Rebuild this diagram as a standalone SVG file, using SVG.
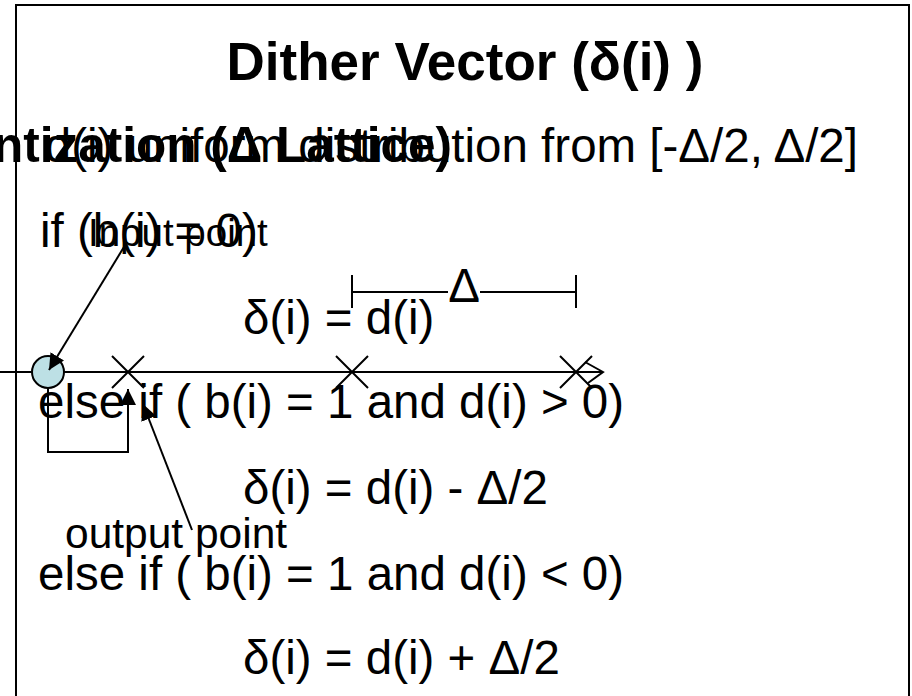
<svg xmlns="http://www.w3.org/2000/svg" width="912" height="696" viewBox="0 0 912 696">
<style>
.t{font-family:"Liberation Sans",Arial,sans-serif;font-size:47.5px;fill:#000}
.b{font-family:"Liberation Sans",Arial,sans-serif;font-weight:bold;fill:#000}
.s{font-family:"Liberation Sans",Arial,sans-serif;fill:#000}
.ln{stroke:#000;stroke-width:2;fill:none}
</style>
<defs>
<marker id="ahb" viewBox="0 0 10 10" refX="10" refY="5" markerWidth="16" markerHeight="16" markerUnits="userSpaceOnUse" orient="auto">
<path d="M0,0 L10,5 L0,10 z" fill="#000"/>
</marker>
</defs>
<rect id="frame" x="16" y="5" width="893" height="720" fill="#fff" stroke="#000" stroke-width="2"/>
<g id="texts">
<text class="b" x="465" y="80" text-anchor="middle" font-size="53">Dither Vector (δ(i) )</text>
<text class="b" x="452" y="162" text-anchor="end" font-size="49.5">Quantization (Δ Lattice)</text>
<text class="t" x="858" y="162" text-anchor="end">d(i) uniform distribution from [-Δ/2, Δ/2]</text>
<text class="t" x="40" y="247">if (b(i) = 0)</text>
<text class="t" x="243" y="334">δ(i) = d(i)</text>
<text class="t" x="38" y="418">else if ( b(i) = 1 and d(i) &gt; 0)</text>
<text class="t" x="243" y="504">δ(i) = d(i) - Δ/2</text>
<text class="t" x="38" y="590">else if ( b(i) = 1 and d(i) &lt; 0)</text>
<text class="t" x="243" y="674">δ(i) = d(i) + Δ/2</text>
</g>
<g id="axis">
<line class="ln" x1="0" y1="372" x2="603" y2="372"/>
<polyline class="ln" points="585,362 603,372 588,383"/>
</g>
<g id="lattice">
<path class="ln" d="M112,356 L144,388 M144,356 L112,388"/>
<path class="ln" d="M336,356 L368,388 M368,356 L336,388"/>
<path class="ln" d="M560,356 L592,388 M592,356 L560,388"/>
</g>
<g id="delta">
<line class="ln" x1="352" y1="292" x2="448" y2="292"/>
<line class="ln" x1="480" y1="292" x2="576" y2="292"/>
<line class="ln" x1="352" y1="275" x2="352" y2="308"/>
<line class="ln" x1="576" y1="275" x2="576" y2="308"/>
<text class="t" x="464" y="302" text-anchor="middle">Δ</text>
</g>
<g id="input-node">
<circle cx="48" cy="372" r="16" fill="#bde0e5" stroke="#000" stroke-width="2"/>
<text class="s" x="88" y="246" font-size="38.5">Input point</text>
</g>
<g id="output-node">
<text class="s" x="65" y="548" font-size="42.5">output point</text>
</g>
<g id="connectors">
<line class="ln" x1="127" y1="242" x2="49" y2="370" marker-end="url(#ahb)"/>
<line class="ln" x1="192" y1="530" x2="143" y2="404" marker-end="url(#ahb)"/>
<polyline class="ln" points="48,388 48,452 128,452 128,389" marker-end="url(#ahb)"/>
</g>
</svg>
